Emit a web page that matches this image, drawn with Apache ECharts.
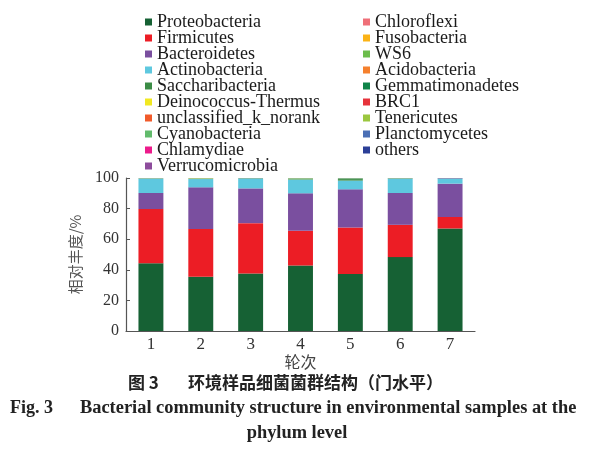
<!DOCTYPE html>
<html>
<head>
<meta charset="utf-8">
<script src="https://cdn.jsdelivr.net/npm/echarts@6/dist/echarts.min.js"></script>
<style>html,body{margin:0;padding:0;background:#fff}#c{width:594px;height:453px}</style>
</head>
<body>
<div id="c"></div>
<script>
// ---- data ----
const rounds = ['1','2','3','4','5','6','7'];
const yTicks = [0,20,40,60,80,100];
const Proteobacteria      = [44.3, 35.4, 37.6, 42.8, 37.3, 48.3, 67.0];
const Firmicutes          = [35.4, 31.2, 32.9, 22.7, 30.4, 21.1, 7.5];
const Bacteroidetes       = [10.5, 27.3, 22.7, 24.5, 24.9, 20.8, 21.8];
const Actinobacteria      = [9.4, 5.4, 6.4, 8.9, 5.7, 9.4, 3.3];
const Saccharibacteria    = [0.1, 0.1, 0.1, 0.3, 1.0, 0.1, 0.1];
const DeinococcusThermus  = [0, 0.2, 0, 0, 0, 0, 0];
const unclassified        = [0, 0, 0, 0, 0, 0, 0];
const Cyanobacteria       = [0.1, 0.1, 0.1, 0.3, 0.2, 0, 0];
const Chlamydiae          = [0, 0, 0, 0, 0, 0, 0.05];
const Verrucomicrobia     = [0, 0, 0, 0, 0, 0, 0.1];
const Chloroflexi         = [0.05, 0, 0, 0, 0, 0, 0];
const Fusobacteria        = [0, 0, 0, 0, 0, 0, 0];
const WS6                 = [0.05, 0, 0.1, 0.2, 0, 0, 0];
const Acidobacteria       = [0, 0, 0, 0, 0, 0, 0];
const Gemmatimonadetes    = [0, 0, 0, 0, 0.2, 0, 0];
const BRC1                = [0, 0, 0, 0, 0, 0, 0];
const Tenericutes         = [0.05, 0.2, 0, 0.2, 0.2, 0.2, 0];
const Planctomycetes      = [0, 0, 0, 0, 0, 0, 0];
const others              = [0.05, 0.1, 0.1, 0.1, 0.1, 0.1, 0.15];

const leftNames  = ['Proteobacteria','Firmicutes','Bacteroidetes','Actinobacteria','Saccharibacteria','Deinococcus-Thermus','unclassified_k_norank','Cyanobacteria','Chlamydiae','Verrucomicrobia'];
const rightNames = ['Chloroflexi','Fusobacteria','WS6','Acidobacteria','Gemmatimonadetes','BRC1','Tenericutes','Planctomycetes','others'];
const seriesData = [Proteobacteria,Firmicutes,Bacteroidetes,Actinobacteria,Saccharibacteria,DeinococcusThermus,unclassified,Cyanobacteria,Chlamydiae,Verrucomicrobia,
                    Chloroflexi,Fusobacteria,WS6,Acidobacteria,Gemmatimonadetes,BRC1,Tenericutes,Planctomycetes,others];
const colors = ['#166134','#ec1d25','#7a4f9f','#5ec8df','#3b8c46','#f1e821','#f15a2a','#62bb6c','#ec1a8b','#8d4c9c',
                '#ef6f78','#fbb316','#6cbd4c','#f5802d','#0f8449','#e6333b','#9bc73f','#4b6fb5','#2b3f97'];

const serif = '"Liberation Serif","Times New Roman",serif';
const cjk = '"Noto Sans CJK SC",sans-serif';
const allNames = leftNames.concat(rightNames);

const chart = echarts.init(document.getElementById('c'));
const legendBase = {
  orient: 'vertical', top: 8, itemWidth: 7, itemHeight: 7, itemGap: -2,
  icon: 'rect', selectedMode: false,
  textStyle: {fontFamily: serif, fontSize: 18, color: '#1a1a1a'}
};
chart.setOption({
  animation: false,
  color: colors,
  legend: [
    Object.assign({}, legendBase, {left: 140, data: leftNames}),
    Object.assign({}, legendBase, {left: 358, data: rightNames})
  ],
  grid: {left: 126, right: 119, top: 178, bottom: 122},
  xAxis: {
    type: 'category', data: rounds,
    name: '轮次', nameLocation: 'middle', nameGap: 15,
    nameTextStyle: {fontFamily: cjk, fontSize: 16, color: '#444'},
    axisLine: {lineStyle: {color: '#555', width: 1.2}},
    axisTick: {inside: true, length: 4, lineStyle: {color: '#555'}},
    axisLabel: {fontFamily: serif, fontSize: 17, color: '#333', margin: 5}
  },
  yAxis: {
    type: 'value', min: 0, max: 100, interval: 20,
    name: '相对丰度/%', nameLocation: 'middle', nameGap: 43, nameRotate: 90,
    nameTextStyle: {fontFamily: cjk, fontSize: 15, color: '#555'},
    axisLine: {show: true, lineStyle: {color: '#555', width: 1.2}},
    axisTick: {show: true, inside: true, length: 4, lineStyle: {color: '#555'}},
    axisLabel: {fontFamily: serif, fontSize: 16, color: '#333', margin: 7},
    splitLine: {show: false}
  },
  series: allNames.map((n, i) => ({
    name: n, type: 'bar', stack: 'total', barWidth: '50%',
    data: seriesData[i]
  })),
  graphic: [
    {type: 'text', left: 128, top: 374, style: {text: '图 3', font: 'bold 17px ' + cjk, fill: '#222'}},
    {type: 'text', left: 188, top: 374, style: {text: '环境样品细菌菌群结构（门水平）', font: 'bold 17px ' + cjk, fill: '#222'}},
    {type: 'text', left: 10, top: 399, style: {text: 'Fig. 3', font: 'bold 18px ' + serif, fill: '#222'}},
    {type: 'text', left: 80, top: 399, style: {text: 'Bacterial community structure in environmental samples at the', font: 'bold 18.4px ' + serif, fill: '#222'}},
    {type: 'text', left: 'center', top: 424, style: {text: 'phylum level', font: 'bold 18.4px ' + serif, fill: '#222'}}
  ]
});
</script>
</body>
</html>
